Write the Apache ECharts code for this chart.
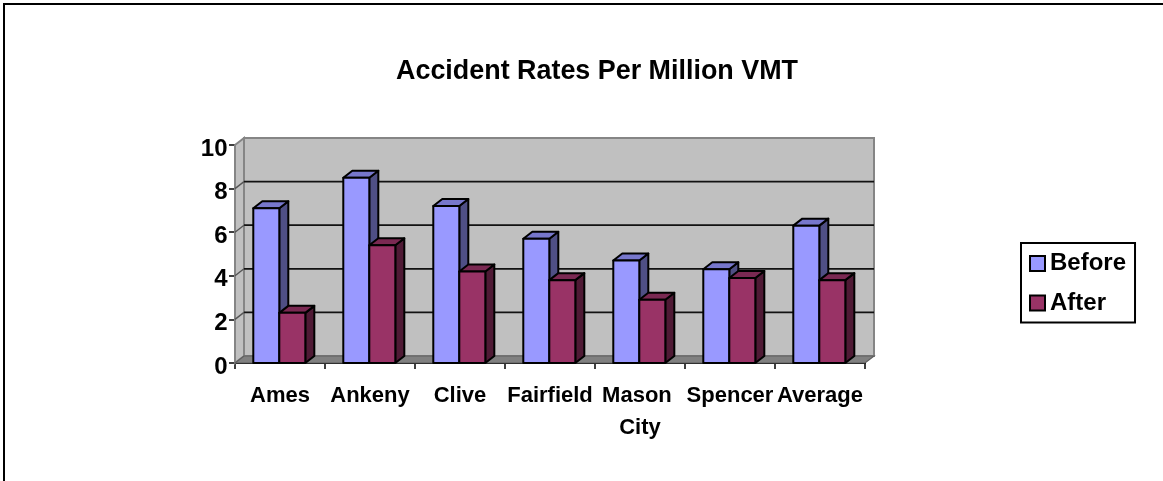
<!DOCTYPE html>
<html><head><meta charset="utf-8">
<style>html,body{margin:0;padding:0;background:#fff}#c{width:1163px;height:481px}</style>
<script src="https://cdn.jsdelivr.net/npm/echarts@6/dist/echarts.min.js"></script>
</head><body><div id="c"></div>
<script>
const categories = ['Ames','Ankeny','Clive','Fairfield','Mason City','Spencer','Average'];
const before = [7.1,8.5,7.2,5.7,4.7,4.3,6.3];
const after = [2.3,5.4,4.2,3.8,2.9,3.9,3.8];
const yTicks = [0,2,4,6,8,10];
const font = '"Liberation Sans", Arial, sans-serif';
const DX = 9, DY = -7;

const chart = echarts.init(document.getElementById('c'), null, {renderer:'canvas'});

function wall(params, api){
  const a = api.coord([0,0]), band = api.size([1,0])[0];
  const x0 = a[0]-band/2, y0 = a[1];
  const top = api.coord([0,10])[1];
  const x1 = x0 + band*categories.length;
  const ch = [];
  const poly = (pts, fill, stroke, lw)=>({type:'polygon',shape:{points:pts},style:{fill,stroke,lineWidth:lw}});
  ch.push(poly([[x0+DX,top+DY],[x1+DX,top+DY],[x1+DX,y0+DY],[x0+DX,y0+DY]],'#C0C0C0','#858585',2));
  ch.push(poly([[x0,top],[x0+DX,top+DY],[x0+DX,y0+DY],[x0,y0]],'#C0C0C0','#858585',2));
  ch.push(poly([[x0,y0],[x0+DX,y0+DY],[x1+DX,y0+DY],[x1,y0]],'#808080','#5f5f5f',1.2));
  yTicks.forEach(t=>{
    if(t===0||t===10) return;
    const y = api.coord([0,t])[1];
    ch.push({type:'line',shape:{x1:x0+DX,y1:y+DY,x2:x1+DX,y2:y+DY},style:{stroke:'#111',lineWidth:1.8}});
    ch.push({type:'line',shape:{x1:x0,y1:y,x2:x0+DX,y2:y+DY},style:{stroke:'#555',lineWidth:1.4}});
  });
  return {type:'group',children:ch};
}

function bar3d(side, face, topc, sidec){
  return function(params, api){
    const idx = api.value(0), v = api.value(1);
    const b = api.coord([idx,0]), t = api.coord([idx,v]);
    const w = api.size([1,0])[0]*0.289;
    const cx = b[0]-0.7;
    const l = side<0 ? cx-w : cx, r = l+w;
    const st = (fill)=>({fill,stroke:'#000',lineWidth:2,lineJoin:'round'});
    return {type:'group',children:[
      {type:'polygon',shape:{points:[[r,t[1]],[r+DX,t[1]+DY],[r+DX,b[1]+DY],[r,b[1]]]},style:st(sidec)},
      {type:'polygon',shape:{points:[[l,t[1]],[l+DX,t[1]+DY],[r+DX,t[1]+DY],[r,t[1]]]},style:st(topc)},
      {type:'rect',shape:{x:l,y:t[1],width:w,height:b[1]-t[1]},style:st(face)}
    ]};
  };
}

chart.setOption({
  animation:false,
  backgroundColor:'#fff',
  title:{text:'Accident Rates Per Million VMT',left:592,top:53,textAlign:'center',
    textStyle:{fontFamily:font,fontWeight:'bold',fontSize:26.9,color:'#000'}},
  legend:{orient:'vertical',left:1021,top:243,padding:[8.5,9,7.5,8],itemGap:15.5,itemWidth:15,itemHeight:15,
    borderColor:'#000',borderWidth:2,backgroundColor:'#fff',icon:'rect',
    data:['Before','After'],
    textStyle:{fontFamily:font,fontWeight:'bold',fontSize:24,color:'#000',padding:[0,0,0,0]}},
  grid:{left:235,top:145,width:630,height:218,containLabel:false},
  xAxis:{type:'category',data:categories,
    axisLine:{lineStyle:{color:'#000',width:2},onZero:false},
    axisTick:{show:true,alignWithLabel:false,length:6,lineStyle:{color:'#000',width:1.5}},
    axisLabel:{interval:0,color:'#000',fontFamily:font,fontWeight:'bold',fontSize:22,margin:16.5,
      width:92,overflow:'break',lineHeight:32},
    splitLine:{show:false}},
  yAxis:{type:'value',min:0,max:10,interval:2,
    axisLine:{show:true,lineStyle:{color:'#000',width:2}},
    axisTick:{show:true,length:6,lineStyle:{color:'#000',width:1.5}},
    axisLabel:{color:'#000',fontFamily:font,fontWeight:'bold',fontSize:24,margin:7.5,verticalAlign:'top',padding:[-8,0,0,0]},
    splitLine:{show:false}},
  graphic:[{type:'polyline',silent:true,z:-1,shape:{points:[[4,481],[4,4],[1163,4]]},
    style:{fill:'none',stroke:'#000',lineWidth:2}}],
  series:[
    {type:'custom',name:'wall',silent:true,z:1,data:[[0,0]],renderItem:wall,legendHoverLink:false},
    {type:'custom',name:'Before',z:2,data:before.map((v,i)=>[i,v]),encode:{x:0,y:1},
     itemStyle:{color:'#9999FF',borderColor:'#000',borderWidth:2},
     renderItem:bar3d(-1,'#9999FF','#7777CC','#4F4F85')},
    {type:'custom',name:'After',z:3,data:after.map((v,i)=>[i,v]),encode:{x:0,y:1},
     itemStyle:{color:'#993366',borderColor:'#000',borderWidth:2},
     renderItem:bar3d(1,'#993366','#7A2952','#4F1A35')}
  ]
});
</script></body></html>
